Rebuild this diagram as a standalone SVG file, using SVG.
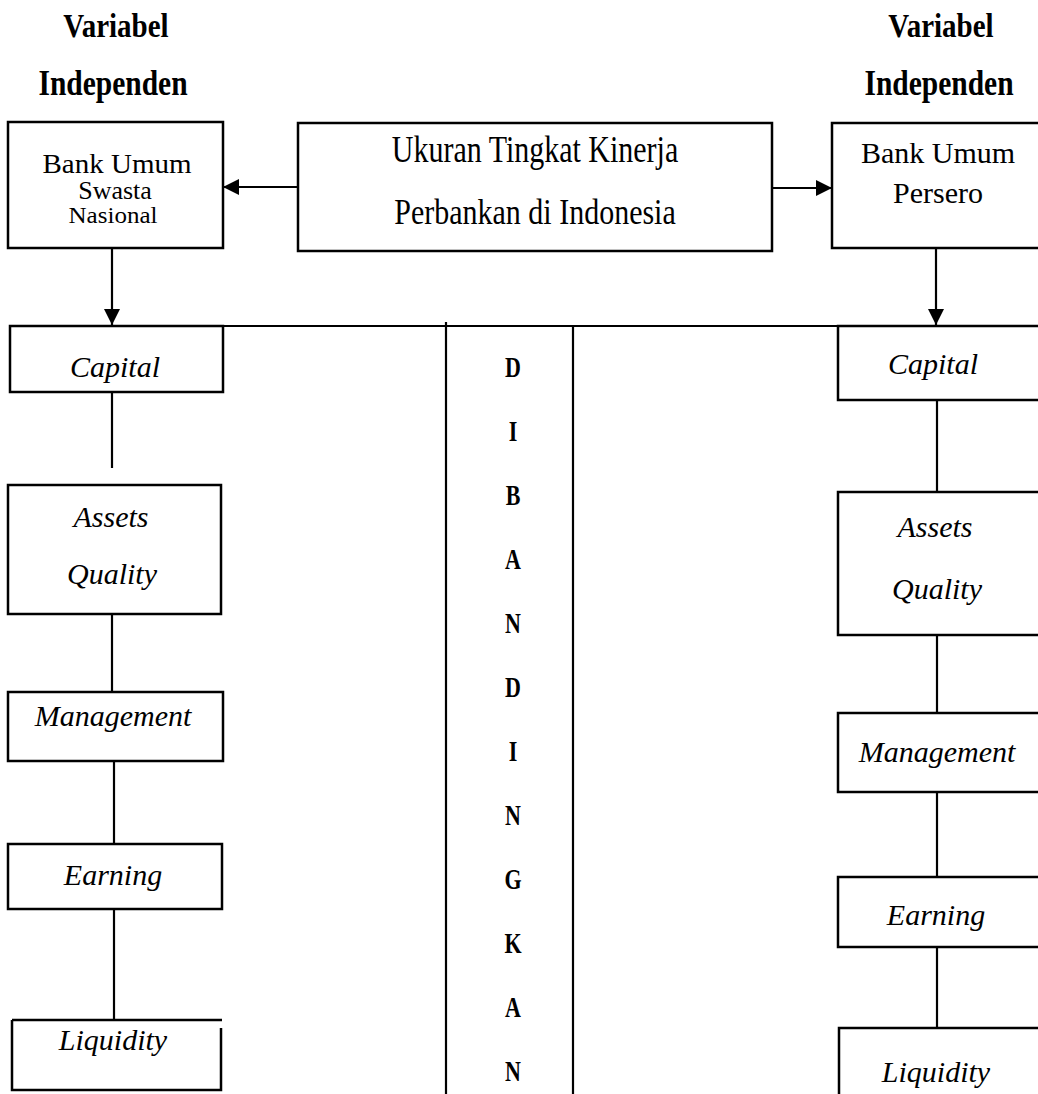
<svg xmlns="http://www.w3.org/2000/svg" width="1038" height="1094" viewBox="0 0 1038 1094">
<style>
.box{fill:#fff;stroke:#000;stroke-width:2.5}
.ln{fill:none;stroke:#000;stroke-width:2.2}
.t{font-family:"Liberation Serif","Times New Roman",serif;fill:#000;text-anchor:middle}
.b{font-weight:bold}
.i{font-style:italic;font-size:30px}
</style>
<defs>
<marker id="ah" viewBox="0 0 16 16" refX="16" refY="8" markerWidth="16" markerHeight="16" markerUnits="userSpaceOnUse" orient="auto">
<path d="M0,0 L16,8 L0,16 Z" fill="#000"/>
</marker>
</defs>
<rect width="1038" height="1094" fill="#fff"/>

<g id="headers">
<text class="t b" transform="translate(116,37) scale(1,1.15)" font-size="29">Variabel</text>
<text class="t b" transform="translate(113,95) scale(1,1.2)" font-size="29.5">Independen</text>
<text class="t b" transform="translate(941,37) scale(1,1.15)" font-size="29">Variabel</text>
<text class="t b" transform="translate(939,95) scale(1,1.2)" font-size="29.5">Independen</text>
</g>

<g id="connectors">
<line class="ln" x1="298" y1="187" x2="223" y2="187" marker-end="url(#ah)"/>
<line class="ln" x1="772" y1="188" x2="832" y2="188" marker-end="url(#ah)"/>
<line class="ln" x1="112" y1="248" x2="112" y2="325" marker-end="url(#ah)"/>
<line class="ln" x1="936" y1="248" x2="936" y2="325" marker-end="url(#ah)"/>
<line class="ln" x1="10" y1="326" x2="1040" y2="326" stroke-width="2.5"/>
<line class="ln" x1="446" y1="322" x2="446" y2="1096"/>
<line class="ln" x1="573" y1="325" x2="573" y2="1096" stroke-width="2.5"/>
<line class="ln" x1="112" y1="392" x2="112" y2="468"/>
<line class="ln" x1="112" y1="614" x2="112" y2="692"/>
<line class="ln" x1="114" y1="761" x2="114" y2="844"/>
<line class="ln" x1="114" y1="909" x2="114" y2="1020"/>
<line class="ln" x1="937" y1="400" x2="937" y2="492"/>
<line class="ln" x1="937" y1="635" x2="937" y2="713"/>
<line class="ln" x1="937" y1="792" x2="937" y2="877"/>
<line class="ln" x1="937" y1="947" x2="937" y2="1028"/>
</g>

<g id="n-bank-swasta">
<rect class="box" x="8" y="122" width="215" height="126"/>
<text class="t" transform="translate(117,173) scale(1,0.92)" font-size="29">Bank Umum</text>
<text class="t" transform="translate(115,199) scale(1,0.95)" font-size="26">Swasta</text>
<text class="t" transform="translate(113,223) scale(1,0.95)" font-size="25">Nasional</text>
</g>

<g id="n-ukuran">
<rect class="box" x="298" y="123" width="474" height="128"/>
<text class="t" transform="translate(535,162) scale(1,1.25)" font-size="30">Ukuran Tingkat Kinerja</text>
<text class="t" transform="translate(535,224) scale(1,1.2)" font-size="30">Perbankan di Indonesia</text>
</g>

<g id="n-bank-persero">
<rect class="box" x="832" y="123" width="215" height="125"/>
<text class="t" x="938" y="163" font-size="30">Bank Umum</text>
<text class="t" x="938" y="203" font-size="30">Persero</text>
</g>

<g id="n-dibandingkan">
<text class="t b" transform="translate(513,377) scale(1,1.3)" font-size="22">D</text>
<text class="t b" transform="translate(513,441) scale(1,1.3)" font-size="22">I</text>
<text class="t b" transform="translate(513,505) scale(1,1.3)" font-size="22">B</text>
<text class="t b" transform="translate(513,569) scale(1,1.3)" font-size="22">A</text>
<text class="t b" transform="translate(513,633) scale(1,1.3)" font-size="22">N</text>
<text class="t b" transform="translate(513,697) scale(1,1.3)" font-size="22">D</text>
<text class="t b" transform="translate(513,761) scale(1,1.3)" font-size="22">I</text>
<text class="t b" transform="translate(513,825) scale(1,1.3)" font-size="22">N</text>
<text class="t b" transform="translate(513,889) scale(1,1.3)" font-size="22">G</text>
<text class="t b" transform="translate(513,953) scale(1,1.3)" font-size="22">K</text>
<text class="t b" transform="translate(513,1017) scale(1,1.3)" font-size="22">A</text>
<text class="t b" transform="translate(513,1081) scale(1,1.3)" font-size="22">N</text>
</g>

<g id="n-left-capital">
<rect class="box" x="10" y="326" width="213" height="66"/>
<text class="t i" x="115" y="377" font-size="28">Capital</text>
</g>
<g id="n-left-assets">
<rect class="box" x="8" y="485" width="213" height="129"/>
<text class="t i" x="111" y="527">Assets</text>
<text class="t i" x="112" y="584">Quality</text>
</g>
<g id="n-left-management">
<rect class="box" x="8" y="692" width="215" height="69"/>
<text class="t i" x="113" y="726">Management</text>
</g>
<g id="n-left-earning">
<rect class="box" x="8" y="844" width="214" height="65"/>
<text class="t i" x="113" y="885">Earning</text>
</g>
<g id="n-left-liquidity">
<path class="box" d="M12,1020 H222 M12,1020 V1090 H221 V1028" fill="none"/>
<text class="t i" x="113" y="1050">Liquidity</text>
</g>

<g id="n-right-capital">
<rect class="box" x="838" y="326" width="210" height="74"/>
<text class="t i" x="933" y="374">Capital</text>
</g>
<g id="n-right-assets">
<rect class="box" x="838" y="492" width="210" height="143"/>
<text class="t i" x="935" y="537">Assets</text>
<text class="t i" x="937" y="599">Quality</text>
</g>
<g id="n-right-management">
<rect class="box" x="838" y="713" width="210" height="79"/>
<text class="t i" x="937" y="762">Management</text>
</g>
<g id="n-right-earning">
<rect class="box" x="838" y="877" width="210" height="70"/>
<text class="t i" x="936" y="925">Earning</text>
</g>
<g id="n-right-liquidity">
<rect class="box" x="839" y="1028" width="210" height="80"/>
<text class="t i" x="936" y="1082">Liquidity</text>
</g>
</svg>
